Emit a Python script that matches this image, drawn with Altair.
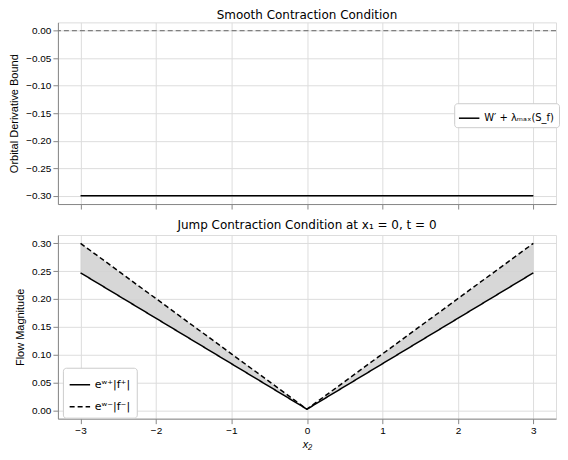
import altair as alt
import pandas as pd

x_vals = [-3.0, 0.0, 3.0]
smooth_bound = [-0.30, -0.30, -0.30]
plus_flow = [0.247, 0.002, 0.247]
minus_flow = [0.300, 0.002, 0.300]
zero_line = [0.0]

top_label = "W′ + λₘₐₓ(S_f)"
plus_label = "eʷ⁺|f⁺|"
minus_label = "eʷ⁻|f⁻|"

x_ticks = [-3, -2, -1, 0, 1, 2, 3]
top_ticks = [0, -0.05, -0.1, -0.15, -0.2, -0.25, -0.3]
bot_ticks = [0, 0.05, 0.1, 0.15, 0.2, 0.25, 0.3]

font = "DejaVu Sans"
X_DOM = [-3.3, 3.3]
TOP_DOM = [-0.315, 0.015]
BOT_DOM = [-0.015, 0.315]
W = 499
H_TOP, H_BOT = 182, 184

x_scale = alt.Scale(domain=X_DOM, nice=False, zero=False)
top_y_scale = alt.Scale(domain=TOP_DOM, nice=False, zero=False)
bot_y_scale = alt.Scale(domain=BOT_DOM, nice=False, zero=False)

x_axis_top = alt.Axis(values=x_ticks, labels=False, title=None)
x_axis_bot = alt.Axis(values=x_ticks, format="d", title="x₂", titleFontStyle="italic",
                      titleFontWeight="normal", titlePadding=3)
y_axis_top = alt.Axis(values=top_ticks, format=".2f", title="Orbital Derivative Bound",
                      titleFontWeight="normal", titlePadding=6)
y_axis_bot = alt.Axis(values=bot_ticks, format=".2f", title="Flow Magnitude",
                      titleFontWeight="normal", titlePadding=6)

top_df = pd.DataFrame({"x": x_vals, "y": smooth_bound, "s": [top_label] * 3})
zero_df = pd.DataFrame({"y": zero_line})

top_line = alt.Chart(top_df).mark_line(strokeWidth=1.5).encode(
    x=alt.X("x:Q", scale=x_scale, axis=x_axis_top),
    y=alt.Y("y:Q", scale=top_y_scale, axis=y_axis_top),
    color=alt.Color("s:N", scale=alt.Scale(range=["black"]),
                    legend=alt.Legend(title=None, orient="none", legendX=397, legendY=81,
                                      symbolType="stroke", symbolStrokeWidth=1.5,
                                      symbolSize=420, labelFontSize=10,
                                      fillColor="white", strokeColor="#cccccc",
                                      cornerRadius=3, padding=4, labelFont=font)),
)
top_zero = alt.Chart(zero_df).mark_rule(color="gray", strokeDash=[5, 3], strokeWidth=1.3).encode(
    y=alt.Y("y:Q", scale=top_y_scale, axis=y_axis_top))

top = alt.layer(top_line, top_zero).properties(
    width=W, height=H_TOP,
    title=alt.TitleParams("Smooth Contraction Condition", fontSize=12, font=font,
                          fontWeight="normal", offset=0))

bot_rows = []
for xv, p, m in zip(x_vals, plus_flow, minus_flow):
    bot_rows.append({"x": xv, "y": p, "s": plus_label})
    bot_rows.append({"x": xv, "y": m, "s": minus_label})
bot_df = pd.DataFrame(bot_rows)
fill_df = pd.DataFrame({"x": x_vals, "lo": plus_flow, "hi": minus_flow})

fill = alt.Chart(fill_df).mark_area(color="#d3d3d3", opacity=0.9).encode(
    x=alt.X("x:Q", scale=x_scale, axis=x_axis_bot),
    y=alt.Y("lo:Q", scale=bot_y_scale, axis=y_axis_bot),
    y2="hi:Q")

lines = alt.Chart(bot_df).mark_line(strokeWidth=1.5, color="black").encode(
    x=alt.X("x:Q", scale=x_scale, axis=x_axis_bot),
    y=alt.Y("y:Q", scale=bot_y_scale, axis=y_axis_bot),
    strokeDash=alt.StrokeDash("s:N", scale=alt.Scale(domain=[plus_label, minus_label],
                                                     range=[[1, 0], [5, 3]]),
                              legend=alt.Legend(title=None, orient="none", legendX=5, legendY=133,
                                                symbolType="stroke", symbolStrokeWidth=1.5,
                                                symbolStrokeColor="black",
                                                symbolSize=420, labelFontSize=11,
                                                fillColor="white", strokeColor="#cccccc",
                                                cornerRadius=3, padding=6, rowPadding=6,
                                                labelFont=font)),
)

bottom = alt.layer(fill, lines).properties(
    width=W, height=H_BOT,
    title=alt.TitleParams("Jump Contraction Condition at x₁ = 0, t = 0", fontSize=12, font=font,
                          fontWeight="normal", offset=3))

chart = alt.vconcat(top, bottom, spacing=8).resolve_scale(
    color="independent", strokeDash="independent"
).resolve_legend(color="independent", strokeDash="independent").configure_view(
    stroke="black", strokeWidth=1
).configure_axis(
    labelFont=font, titleFont=font, labelFontSize=10.5, titleFontSize=10,
    titleFontWeight="normal", gridColor="#b0b0b0", gridWidth=1, domain=False,
    tickColor="black", tickSize=4, labelColor="black", titleColor="black", labelPadding=3,
    labelOverlap=False
).configure(background="white", padding=0)

chart.save("out.html", embed_options={"renderer": "svg", "actions": False})
